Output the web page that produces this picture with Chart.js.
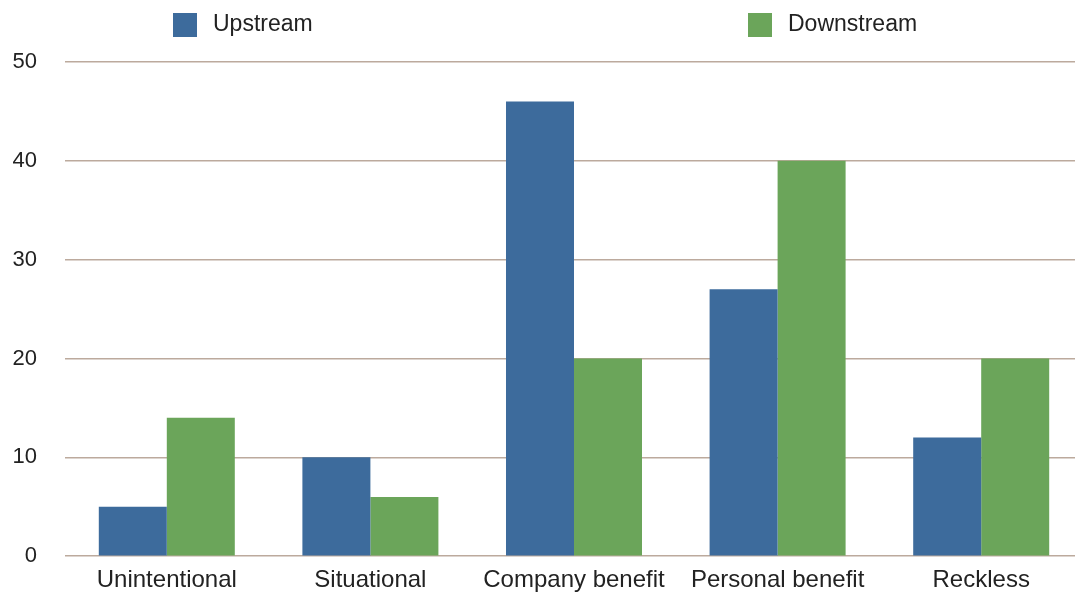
<!DOCTYPE html>
<html>
<head>
<meta charset="utf-8">
<title>Upstream vs Downstream</title>
<script src="https://cdn.jsdelivr.net/npm/chart.js@4/dist/chart.umd.min.js"></script>
<style>
  html, body { margin: 0; padding: 0; background: #fff; overflow: hidden; }
  canvas { display: block; }
</style>
</head>
<body>
<!-- plot runs slightly past the right and bottom edges of the window -->
<canvas id="myChart" width="1083" height="605"></canvas>
<script>
// chart data
const categories = ["Unintentional", "Situational", "Company benefit", "Personal benefit", "Reckless"];
const upstream = [5, 10, 46, 27, 12];
const downstream = [14, 6, 20, 40, 20];
const yTicks = [0, 10, 20, 30, 40, 50];

const BLUE = "#3d6b9c";
const GREEN = "#6ba55a";
const GRID = "#bcaa9d";
const FONT = "'Liberation Sans', Arial, Helvetica, sans-serif";

// legend drawn across the top, items spread far apart
const topLegend = {
  id: "topLegend",
  afterDraw(chart) {
    const ctx = chart.ctx;
    const items = [
      { x: 173, text: "Upstream", color: BLUE },
      { x: 748, text: "Downstream", color: GREEN },
    ];
    ctx.save();
    ctx.font = "23px " + FONT;
    ctx.textBaseline = "middle";
    ctx.textAlign = "left";
    items.forEach(function (it) {
      ctx.fillStyle = it.color;
      ctx.fillRect(it.x, 13, 24, 24);
      ctx.fillStyle = "#222";
      ctx.fillText(it.text, it.x + 40, 25);
    });
    ctx.restore();
  },
};

var ctx = document.getElementById("myChart").getContext("2d");
var myChart = new Chart(ctx, {
  type: "bar",
  data: {
    labels: categories,
    datasets: [
      { label: "Upstream", data: upstream, backgroundColor: BLUE },
      { label: "Downstream", data: downstream, backgroundColor: GREEN },
    ],
  },
  options: {
    responsive: false,
    animation: false,
    datasets: {
      bar: { categoryPercentage: 0.668, barPercentage: 1 },
    },
    layout: {
      padding: { top: 62, left: 9, right: 0, bottom: 0 },
    },
    scales: {
      x: {
        grid: { display: false, drawTicks: false },
        border: { display: false },
        ticks: {
          color: "#222",
          padding: 10,
          maxRotation: 0,
          font: { family: FONT, size: 24 },
        },
      },
      y: {
        min: 0,
        max: 50,
        afterFit: function (axis) { axis.width = 56; },
        afterBuildTicks: function (axis) {
          axis.ticks = yTicks.map(function (v) { return { value: v }; });
        },
        grid: { color: GRID, lineWidth: 1.5, drawTicks: false },
        border: { display: false },
        ticks: {
          color: "#222",
          padding: 28,
          font: { family: FONT, size: 22 },
        },
      },
    },
    plugins: {
      legend: { display: false },
      tooltip: { enabled: false },
    },
  },
  plugins: [topLegend],
});
</script>
</body>
</html>
